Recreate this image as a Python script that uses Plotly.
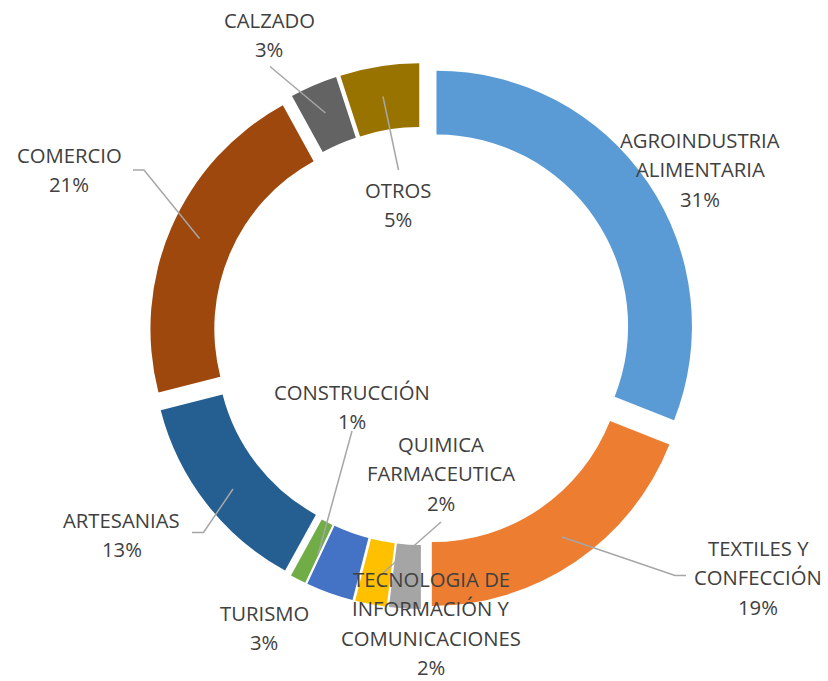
import plotly.graph_objects as go

W, H = 828, 681

# ---- data ----
categories = ["AGROINDUSTRIA ALIMENTARIA", "TEXTILES Y CONFECCIÓN", "QUIMICA FARMACEUTICA",
              "TECNOLOGIA DE INFORMACIÓN Y COMUNICACIONES", "TURISMO", "CONSTRUCCIÓN",
              "ARTESANIAS", "COMERCIO", "CALZADO", "OTROS"]
values = [31, 19, 2, 2, 3, 1, 13, 21, 3, 5]
# label line breaks as shown in the chart
label_lines = [["AGROINDUSTRIA", "ALIMENTARIA"], ["TEXTILES Y", "CONFECCIÓN"],
               ["QUIMICA", "FARMACEUTICA"], ["TECNOLOGIA DE", "INFORMACIÓN Y", "COMUNICACIONES"],
               ["TURISMO"], ["CONSTRUCCIÓN"], ["ARTESANIAS"], ["COMERCIO"], ["CALZADO"], ["OTROS"]]

colors = ["#5B9BD5", "#ED7D31", "#A5A5A5", "#FFC000", "#4472C4", "#70AD47",
          "#255E91", "#9E480E", "#636363", "#997300"]

# ---- layout positions (pixels) ----
label_pos = [(700, 140), (758, 548), (441, 444), (431, 579), (264, 613), (352, 392),
             (122, 520), (69, 155), (269, 20), (398, 190)]
line_step = 29.3
leaders = [
    None,
    [(562, 537), (675, 575.5), (686, 575.5)],
    [(441, 522), (383, 573)],
    None,
    None,
    [(352, 431), (318, 555)],
    [(233, 489), (203.5, 532.5), (192, 532.5)],
    [(133, 170), (144, 170), (199.5, 238.5)],
    [(270, 66.5), (325.5, 113)],
    [(383, 96.5), (398.5, 170)],
]

def px(x, y):
    return x / W, 1 - y / H

total = sum(values)
fig = go.Figure(go.Pie(
    labels=categories, values=values, sort=False, direction="clockwise", rotation=0,
    hole=0.75, pull=[0.0685] * len(values),
    marker=dict(colors=colors, line=dict(width=0)),
    textinfo="none", hoverinfo="label+percent",
    domain=dict(x=[149 / W, 695 / W], y=[1 - 609 / H, 1 - 63 / H]),
    showlegend=False,
))

font = dict(family="'Open Sans', Lato, sans-serif", size=20.3, color="#404040")
annotations = []
for i, lines in enumerate(label_lines):
    pct = f"{round(values[i] / total * 100)}%"
    all_lines = lines + [pct]
    x0, y0 = label_pos[i]
    for k, t in enumerate(all_lines):
        ax, ay = px(x0, y0 + k * line_step)
        annotations.append(dict(text=t, x=ax, y=ay, xref="paper", yref="paper",
                                xanchor="center", yanchor="middle", showarrow=False, font=font))

shapes = []
for pts in leaders:
    if not pts:
        continue
    path = "M " + " L ".join(f"{px(x, y)[0]:.5f},{px(x, y)[1]:.5f}" for x, y in pts)
    shapes.append(dict(type="path", path=path, xref="paper", yref="paper",
                       line=dict(color="#A6A6A6", width=1.5)))

fig.update_layout(width=W, height=H, margin=dict(l=0, r=0, t=0, b=0),
                  paper_bgcolor="white", plot_bgcolor="white",
                  annotations=annotations, shapes=shapes)
fig.write_html("out.html", config={"displayModeBar": False},
               post_script="document.body.style.margin='0';document.body.style.padding='0';")
